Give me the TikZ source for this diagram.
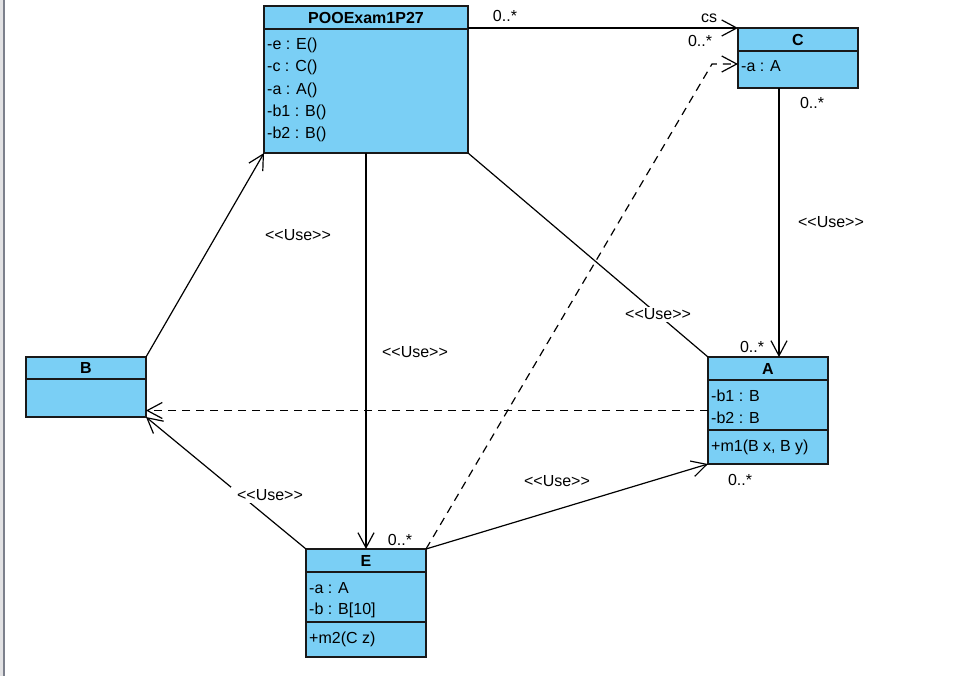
\documentclass[tikz,border=0pt]{standalone}
\usepackage{fontspec}
\setmainfont{Liberation Sans}
\usetikzlibrary{arrows.meta,calc}
\definecolor{classfill}{RGB}{122,207,245}
\definecolor{frameline}{RGB}{124,128,140}
\definecolor{framebg}{RGB}{226,226,228}

\begin{document}
\begin{tikzpicture}[x=1pt,y=-1pt,
  every node/.style={font=\fontsize{16}{19}\selectfont},
  classbox/.style={draw=black!90, line width=1.3pt, fill=classfill, rectangle,
    anchor=north west, inner sep=0pt, outer sep=0pt},
  divider/.style={draw=black!90, line width=1.3pt},
  head/.style={font=\fontsize{16}{19}\selectfont\bfseries, inner sep=0pt},
  attr/.style={anchor=west, inner sep=0pt},
  lbl/.style={inner sep=0pt},
  gaplbl/.style={fill=white, inner sep=2pt},
  link/.style={line width=1.2pt},
  nav/.style={line width=1.2pt, -{Straight Barb[length=15pt,width=16pt,line width=1.2pt]}},
  dep/.style={nav, dash pattern=on 8pt off 6pt}
]
\useasboundingbox (0,0) rectangle (966,676);

% window frame strip on the left
\fill[framebg] (0,0) rectangle (3,676);
\fill[frameline] (3,0) rectangle (5,676);

% ---------- class POOExam1P27 ----------
\node[classbox, minimum width=204pt, minimum height=147pt] (poo) at (264,6) {};
\draw[divider] ($(poo.north west)+(0,23)$) -- ($(poo.north east)+(0,23)$);
\node[head] at ($(poo.north)+(0,12)$) {POOExam1P27};
\node[attr] at ($(poo.north west)+(3,39)$) {-e : E()};
\node[attr] at ($(poo.north west)+(3,61)$) {-c : C()};
\node[attr] at ($(poo.north west)+(3,84)$) {-a : A()};
\node[attr] at ($(poo.north west)+(3,106)$) {-b1 : B()};
\node[attr] at ($(poo.north west)+(3,128)$) {-b2 : B()};

% ---------- class C ----------
\node[classbox, minimum width=120pt, minimum height=60pt] (c) at (738,28) {};
\draw[divider] ($(c.north west)+(0,23)$) -- ($(c.north east)+(0,23)$);
\node[head] at ($(c.north)+(0,12)$) {C};
\node[attr] at ($(c.north west)+(3,38)$) {-a : A};

% ---------- class B ----------
\node[classbox, minimum width=120pt, minimum height=60pt] (b) at (26,357) {};
\draw[divider] ($(b.north west)+(0,22)$) -- ($(b.north east)+(0,22)$);
\node[head] at ($(b.north)+(0,11)$) {B};

% ---------- class A ----------
\node[classbox, minimum width=120pt, minimum height=107pt] (a) at (708,357) {};
\draw[divider] ($(a.north west)+(0,23)$) -- ($(a.north east)+(0,23)$);
\draw[divider] ($(a.north west)+(0,73)$) -- ($(a.north east)+(0,73)$);
\node[head] at ($(a.north)+(0,12)$) {A};
\node[attr] at ($(a.north west)+(3,39)$) {-b1 : B};
\node[attr] at ($(a.north west)+(3,61)$) {-b2 : B};
\node[attr] at ($(a.north west)+(3,90)$) {+m1(B x, B y)};

% ---------- class E ----------
\node[classbox, minimum width=120pt, minimum height=108pt] (e) at (306,549) {};
\draw[divider] ($(e.north west)+(0,23)$) -- ($(e.north east)+(0,23)$);
\draw[divider] ($(e.north west)+(0,73)$) -- ($(e.north east)+(0,73)$);
\node[head] at ($(e.north)+(0,12)$) {E};
\node[attr] at ($(e.north west)+(3,39)$) {-a : A};
\node[attr] at ($(e.north west)+(3,61)$) {-b : B[10]};
\node[attr] at ($(e.north west)+(3,90)$) {+m2(C z)};

% ---------- helper points on the borders ----------
\coordinate (cBot) at ($(c.south west)+(41,0)$);
\coordinate (eBend) at (712,64);

% ---------- connectors ----------
% POOExam1P27 -> C (role cs)
\draw[nav] (c.north west -| poo.east) -- (c.north west);
% POOExam1P27 -> E
\draw[nav] (poo.south) -- (e.north);
% POOExam1P27 -- A
\draw[link] (poo.south east) -- (a.north west)
  node[gaplbl, pos=0.792] {{<}{<}Use{>}{>}};
% B -> POOExam1P27
\draw[nav] (b.north east) -- (poo.south west);
% C -> A
\draw[nav] (cBot) -- (cBot |- a.north);
% A ..> B
\draw[dep] (a.west) -- (a.west -| b.east);
% E -> B
\draw[nav] (e.north west) -- (b.south east);
% E -> A
\draw[nav] (e.north east) -- (a.south west);
% E ..> C
\draw[dep] (e.north east) -- (eBend) -- (eBend -| c.west);

% white gap where a label sits on E -> B
\node[gaplbl, inner xsep=6pt] at (270,495) {{<}{<}Use{>}{>}};

% ---------- labels ----------
\node[lbl] at (505,16) {0..*};
\node[lbl] at (709,18) {cs};
\node[lbl] at (700,41) {0..*};
\node[lbl] at (812,103) {0..*};
\node[lbl] at (831,222) {{<}{<}Use{>}{>}};
\node[lbl] at (752,347) {0..*};
\node[lbl] at (298,235) {{<}{<}Use{>}{>}};
\node[lbl] at (415,352) {{<}{<}Use{>}{>}};
\node[lbl] at (557,481) {{<}{<}Use{>}{>}};
\node[lbl] at (400,540) {0..*};
\node[lbl] at (740,480) {0..*};
\end{tikzpicture}
\end{document}
